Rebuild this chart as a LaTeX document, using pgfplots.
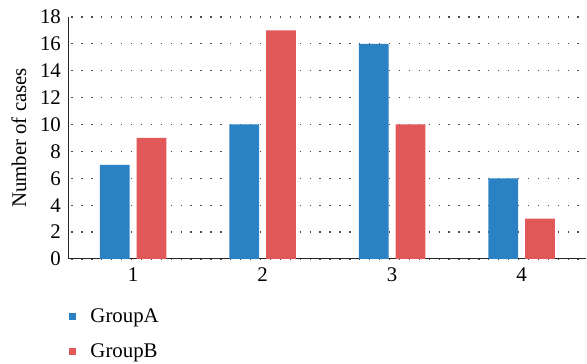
\documentclass[border=0pt]{standalone}
\usepackage{pgfplots}
\pgfplotsset{compat=1.18}
\usepackage{fontspec}
\setmainfont{Liberation Serif}
\definecolor{grpA}{RGB}{42,130,196}
\definecolor{grpB}{RGB}{224,88,87}
\begin{document}
\begin{tikzpicture}
\begin{axis}[
  name=ax, at={(0,0)}, anchor=south west,
  scale only axis, width=522pt, height=244pt,
  xmin=0.5, xmax=4.5, ymin=0, ymax=18,
  ybar=7pt, bar width=30pt,
  xtick={1,2,3,4}, ytick={0,2,...,18},
  axis x line=bottom, axis y line=left,
  axis line style={-, line width=1.1pt, black!85},
  tick style={draw=none},
  ymajorgrids,
  grid style={line width=1.3pt, black!70, dash pattern=on 1.3pt off 8.7pt, dash phase=-3pt},
  /pgf/number format/assume math mode=true,
  ticklabel style={font=\fontsize{21}{24}\selectfont},
  yticklabel style={xshift=-2pt},
  xticklabel style={yshift=-3pt},
  ylabel={Number of cases},
  ylabel shift=7pt,
  ylabel style={font=\fontsize{21}{24}\selectfont},
  legend style={draw=none, fill=none, at={(0,0)}, anchor=north west,
    yshift=-50pt, inner sep=0pt, row sep=20pt, column sep=15pt,
    nodes={inner sep=0pt}, font=\fontsize{21}{24}\selectfont},
  legend cell align=left,
  legend image code/.code={\fill[#1] (0pt,-3.5pt) rectangle (7pt,3.5pt);},
]
\addplot[fill=grpA, draw=none] coordinates {(1,7) (2,10) (3,16) (4,6)};
\addlegendentry{GroupA}
\addplot[fill=grpB, draw=none] coordinates {(1,9) (2,17) (3,10) (4,3)};
\addlegendentry{GroupB}
\end{axis}
\path[use as bounding box] (-69pt,-105pt) rectangle (518pt,261pt);
\end{tikzpicture}
\end{document}
